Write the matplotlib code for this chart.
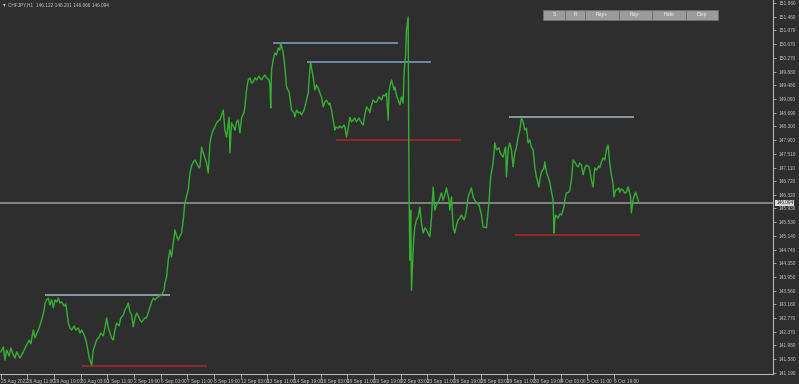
import matplotlib
matplotlib.use("Agg")
import matplotlib.pyplot as plt
from matplotlib.patches import Rectangle
from matplotlib.transforms import blended_transform_factory
from matplotlib import font_manager

# ---------------- data (CHFJPY, H1 close line) ----------------
bars = [1, 4, 6, 8, 11, 13, 16, 18, 20, 24, 28, 30, 32, 35, 37, 40, 42, 44, 47, 50,
        53, 54, 56, 58, 60, 62, 64, 66, 68, 70, 72, 74, 77, 79, 80, 82, 84, 86, 89, 91,
        94, 96, 98, 101, 103, 104, 107, 109, 110, 112, 114, 116, 119, 121, 124, 126, 128, 130, 132, 134,
        136, 138, 140, 143, 145, 148, 150, 152, 154, 156, 158, 160, 162, 164, 167, 168, 170, 172, 174, 176,
        179, 180, 182, 184, 186, 188, 191, 194, 197, 198, 200, 202, 204, 206, 208, 210, 212, 214, 216, 218,
        220, 222, 224, 226, 228, 230, 232, 234, 236, 239, 240, 242, 244, 246, 248, 250, 252, 254, 256, 258,
        260, 263, 264, 266, 268, 270, 272, 275, 276, 278, 281, 282, 284, 286, 288, 290, 293, 294, 296, 298,
        300, 302, 304, 306, 308, 311, 312, 314, 316, 318, 320, 323, 324, 325, 326, 328, 330, 332, 334, 336,
        337, 340, 342, 344, 347, 348, 350, 353, 354, 356, 358, 360, 362, 365, 366, 368, 370, 371, 372, 373,
        374, 376, 378, 380, 382, 384, 386, 388, 390, 392, 395, 396, 398, 400, 402, 403, 406, 408, 410, 413,
        414, 416, 418, 420, 422, 424, 426, 428, 431, 432, 434, 436, 438, 440, 443, 444, 446, 448, 450, 452,
        455, 456, 458, 460, 462, 464, 466, 467, 468, 470, 473, 474, 476, 478, 480, 482, 484, 485, 486, 487,
        488, 490, 491, 492, 493, 494, 496, 497, 498, 500, 502, 504, 506, 508, 510, 512, 515, 516, 518, 520,
        522, 524, 526, 528, 530, 532, 534, 536, 539, 540, 542, 544, 546, 548, 550, 552, 554, 557, 558, 560,
        562, 564, 566, 568, 570, 572, 575, 576, 578, 580, 582, 584, 587, 589, 592, 594, 596, 599, 600, 602,
        604, 606, 607, 608, 610, 612, 614, 616, 618, 620, 622, 624, 626, 628, 630, 632, 634, 636, 638, 640,
        642, 644, 647, 648, 650, 653, 654, 656, 658, 660, 661, 664, 665, 666, 667, 670, 672, 674, 677, 678,
        680, 683, 684, 686, 688, 690, 692, 694, 696, 698, 700, 702, 704, 707, 708, 710, 712, 714, 716, 719,
        720, 722, 724, 726, 728, 730, 732, 734, 736, 737, 739, 740, 743, 744, 746, 748, 750, 752, 754, 756,
        757, 758, 760, 761, 763, 766, 767]

close = [141.79, 141.93, 141.55, 141.84, 141.67, 141.90, 141.70, 141.61, 141.79, 141.61, 141.79, 141.90, 141.99, 142.13, 142.02, 142.42, 142.19, 142.31, 142.48, 142.71,
         143.00, 143.20, 143.29, 143.34, 143.14, 143.29, 143.06, 143.29, 143.23, 143.34, 143.20, 143.23, 143.11, 143.17, 143.00, 142.62, 142.48, 142.42, 142.54, 142.42,
         142.48, 142.33, 142.42, 142.28, 142.13, 142.04, 141.64, 141.47, 141.41, 141.84, 141.99, 142.13, 142.22, 142.33, 142.25, 142.48, 142.77, 142.48, 142.33, 142.19,
         142.13, 142.42, 142.62, 142.54, 142.77, 142.85, 143.00, 143.08, 143.20, 142.94, 142.85, 142.51, 142.77, 142.91, 142.77, 142.71, 142.65, 142.71, 142.77, 142.77,
         143.00, 143.08, 143.23, 143.34, 143.29, 143.34, 143.40, 143.43, 143.57, 143.78, 143.95, 144.44, 144.73, 144.53, 144.93, 145.31, 145.13, 145.02, 145.13, 145.22,
         145.60, 146.09, 146.29, 146.46, 146.95, 147.16, 147.27, 147.33, 147.24, 147.10, 147.13, 147.70, 147.53, 147.39, 147.24, 146.95, 147.82, 148.05, 148.19, 148.28,
         148.40, 148.48, 148.48, 148.63, 148.77, 148.19, 147.99, 148.56, 147.53, 148.40, 148.25, 148.19, 148.43, 148.48, 148.11, 148.54, 148.71, 148.86, 149.35, 149.64,
         149.70, 149.55, 149.58, 149.70, 149.64, 149.75, 149.70, 149.64, 149.72, 149.78, 149.70, 149.64, 149.49, 148.83, 149.93, 150.22, 150.42, 150.36, 150.56, 150.50,
         150.71, 150.42, 150.01, 149.44, 149.29, 149.15, 148.77, 148.69, 148.57, 148.77, 148.69, 148.71, 148.63, 148.77, 148.86, 149.06, 149.26, 149.64, 149.93, 150.16,
         149.98, 149.72, 149.35, 149.49, 149.41, 149.26, 149.15, 148.86, 149.00, 149.06, 148.92, 148.97, 148.77, 148.48, 148.19, 148.28, 148.25, 148.31, 148.25, 148.34,
         148.28, 147.99, 148.25, 148.56, 148.43, 148.48, 148.54, 148.43, 148.54, 148.48, 148.40, 148.34, 148.63, 148.86, 148.77, 148.69, 148.92, 149.06, 149.00, 149.00,
         149.15, 149.12, 149.06, 149.20, 149.18, 149.26, 148.48, 149.29, 149.44, 149.64, 149.35, 149.44, 149.20, 149.06, 148.92, 149.15, 148.97, 149.78, 150.13, 150.36,
         151.08, 151.46, 146.61, 144.44, 145.88, 143.57, 144.73, 145.16, 145.39, 145.60, 145.68, 145.97, 145.51, 145.22, 145.37, 145.31, 145.16, 145.11, 145.68, 146.55,
         145.88, 146.03, 146.09, 146.23, 146.38, 146.17, 146.32, 146.52, 146.17, 145.88, 146.26, 145.39, 145.22, 145.45, 145.60, 145.65, 145.74, 145.60, 145.65, 145.88,
         146.26, 146.40, 146.52, 146.26, 146.17, 146.09, 146.03, 145.94, 145.74, 145.39, 145.39, 145.37, 146.09, 146.84, 147.24, 147.82, 147.62, 147.68, 147.56, 147.47,
         147.41, 147.62, 147.70, 146.84, 147.62, 147.82, 147.62, 147.13, 147.53, 147.70, 147.99, 148.19, 148.54, 148.43, 148.19, 148.25, 147.82, 147.91, 147.70, 147.62,
         147.13, 146.84, 146.55, 146.75, 146.98, 147.10, 147.27, 146.98, 146.84, 146.69, 146.55, 146.17, 145.22, 145.60, 145.74, 145.65, 145.77, 145.74, 145.97, 146.17,
         146.37, 146.40, 146.46, 146.75, 147.33, 147.27, 147.18, 147.13, 147.24, 147.18, 146.90, 147.10, 147.18, 147.13, 147.04, 146.75, 146.55, 147.10, 147.04, 147.16,
         147.10, 147.27, 147.39, 147.33, 147.62, 147.76, 147.24, 146.90, 146.66, 146.26, 146.46, 146.46, 146.52, 146.40, 146.49, 146.46, 146.37, 146.40, 146.55, 146.37,
         146.26, 145.80, 146.17, 146.26, 146.40, 146.17, 146.094]

# support / resistance rays drawn on the chart
level_start = [54, 98, 328, 368, 403, 611, 618]
level_price = [143.43, 141.38, 150.705, 150.16, 147.90, 148.56, 145.17]
level_kind = ["res", "sup", "res2", "res2", "sup", "res", "sup"]
level_len = 150

y_ticks = [151.860, 151.460, 151.070, 150.670, 150.270, 149.880, 149.480, 149.090, 148.690,
           148.300, 147.900, 147.510, 147.110, 146.720, 146.320, 145.930, 145.530, 145.140,
           144.740, 144.350, 143.950, 143.560, 143.160, 142.770, 142.370, 141.980, 141.580, 141.190]
x_labels = ["25 Aug 2022", "26 Aug 11:00", "29 Aug 19:00", "31 Aug 03:00", "1 Sep 11:00",
            "2 Sep 19:00", "6 Sep 03:00", "7 Sep 11:00", "8 Sep 19:00", "12 Sep 03:00",
            "13 Sep 11:00", "14 Sep 19:00", "16 Sep 03:00", "19 Sep 11:00", "20 Sep 19:00",
            "22 Sep 03:00", "23 Sep 11:00", "26 Sep 19:00", "28 Sep 03:00", "29 Sep 11:00",
            "30 Sep 19:00", "4 Oct 03:00", "5 Oct 11:00", "6 Oct 19:00"]
bars_per_label = 32
ohlc = [146.122, 146.201, 146.066, 146.094]
symbol = "CHFJPY,H1"
buttons = ["S", "R", "Ray+", "Ray-", "Hide", "Disp"]
button_widths = [22, 20, 34, 33, 34, 32]

# ---------------- styling ----------------
names = {f.name for f in font_manager.fontManager.ttflist}
SMALL = ["Liberation Sans Narrow", "DejaVu Sans"] if "Liberation Sans Narrow" in names else ["Liberation Sans", "DejaVu Sans"]
FS = 4.0 if SMALL[0] == "Liberation Sans Narrow" else 3.4
plt.rcParams["font.family"] = SMALL

BG = "#2e2e2e"
FG = "#c8c8c8"
GREEN = "#35b035"
colors = {"res": "#8c97a3", "res2": "#7189a8", "sup": "#8f2a2a"}

W, H = 799, 384
fig = plt.figure(figsize=(W / 100, H / 100), dpi=100, facecolor=BG)
ax = fig.add_axes([0, 10 / H, 773 / W, 1 - 10 / H], facecolor=BG)

ax.set_xlim(0, 928)
ax.set_ylim(141.150, 151.947)

for s, p, k in zip(level_start, level_price, level_kind):
    ax.plot([s, s + level_len], [p, p], color=colors[k], lw=1.4, solid_capstyle="butt", zorder=2)

last = close[-1]
ax.axhline(last, color="#8a8a8a", lw=1.3, zorder=1)

ax.plot(bars, close, color=GREEN, lw=1.0, zorder=3)

for sp in ["top", "left"]:
    ax.spines[sp].set_visible(False)
for sp in ["right", "bottom"]:
    ax.spines[sp].set_color("#b4b4b4")
    ax.spines[sp].set_linewidth(0.8)

ax.yaxis.tick_right()
ax.set_yticks(y_ticks)
ax.set_yticklabels([f"{v:.3f}" for v in y_ticks])
ax.tick_params(axis="y", colors="#b4b4b4", labelcolor=FG, labelsize=FS, length=2.5, width=0.6, pad=1.5)

xt = [1 + i * bars_per_label for i in range(len(x_labels))]
ax.set_xticks(xt)
ax.set_xticklabels(x_labels)
ax.tick_params(axis="x", colors="#b4b4b4", labelcolor=FG, labelsize=FS, length=3.5, width=0.6, pad=0.3)
for lab in ax.get_xticklabels():
    lab.set_horizontalalignment("left")

trans = blended_transform_factory(ax.transAxes, ax.transData)
ax.text(1.004, last, f"{last:.3f}", transform=trans, fontsize=FS, color="#202020",
        va="center", ha="left", clip_on=False,
        bbox=dict(boxstyle="square,pad=0.15", fc="#d8d8d8", ec="none"), zorder=5)

fig.text(3 / W, 1 - 4.5 / H, "\u25be", fontsize=4, color=FG, va="center", ha="left",
         family=["DejaVu Sans"])
fig.text(8 / W, 1 - 4.5 / H, f"{symbol}  " + " ".join(f"{v:.3f}" for v in ohlc),
         fontsize=FS, color=FG, va="center", ha="left")

x0 = 543
for name, w in zip(buttons, button_widths):
    r = Rectangle((x0 / W, 1 - 19.5 / H), w / W, 9.5 / H, transform=fig.transFigure,
                  fc="#9c9c9c", ec="#6e6e6e", lw=0.6)
    fig.patches.append(r)
    fig.text((x0 + w / 2) / W, 1 - 14.8 / H, name, fontsize=FS + 0.3, color="#f0f0f0",
             ha="center", va="center")
    x0 += w

fig.savefig("out.png", dpi=100, facecolor=BG)
